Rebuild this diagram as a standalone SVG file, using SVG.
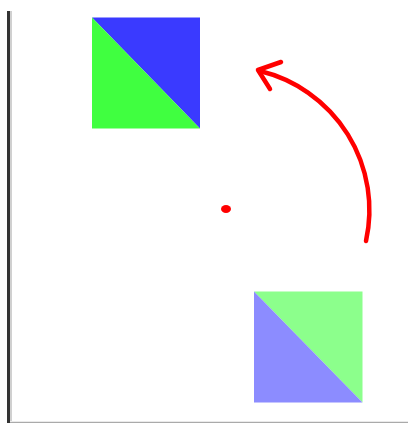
<svg xmlns="http://www.w3.org/2000/svg" width="408" height="423" viewBox="0 0 408 423">
<style>
.arrow{fill:none;stroke:#ff0000;stroke-width:4.5;stroke-linecap:round;stroke-linejoin:round}
</style>
<rect width="408" height="423" fill="#ffffff"/>
<g id="axes">
<line x1="11" y1="11" x2="11" y2="421" stroke="#c0c0c0" stroke-width="1.5"/>
<line x1="8.5" y1="11" x2="8.5" y2="423" stroke="#333333" stroke-width="3"/>
<line x1="10" y1="422.5" x2="408" y2="422.5" stroke="#aaaaaa" stroke-width="1.5"/>
</g>
<g id="square-original">
<polygon points="92,17.5 200,17.5 200,128.5" fill="#3a3aff"/>
<polygon points="92,17.5 200,128.5 92,128.5" fill="#40ff40"/>
</g>
<g id="square-rotated">
<polygon points="254,291.5 362.5,291.5 362.5,402.5" fill="#8cff8c"/>
<polygon points="254,291.5 362.5,402.5 254,402.5" fill="#8c8cff"/>
</g>
<g id="center">
<ellipse cx="226" cy="209" rx="5" ry="4" fill="#ff0000"/>
</g>
<g id="connectors">
<path class="arrow" d="M366,241 A143,143 0 0 0 260,71"/>
<polyline class="arrow" points="281,62 258,70 270,89"/>
</g>
</svg>
